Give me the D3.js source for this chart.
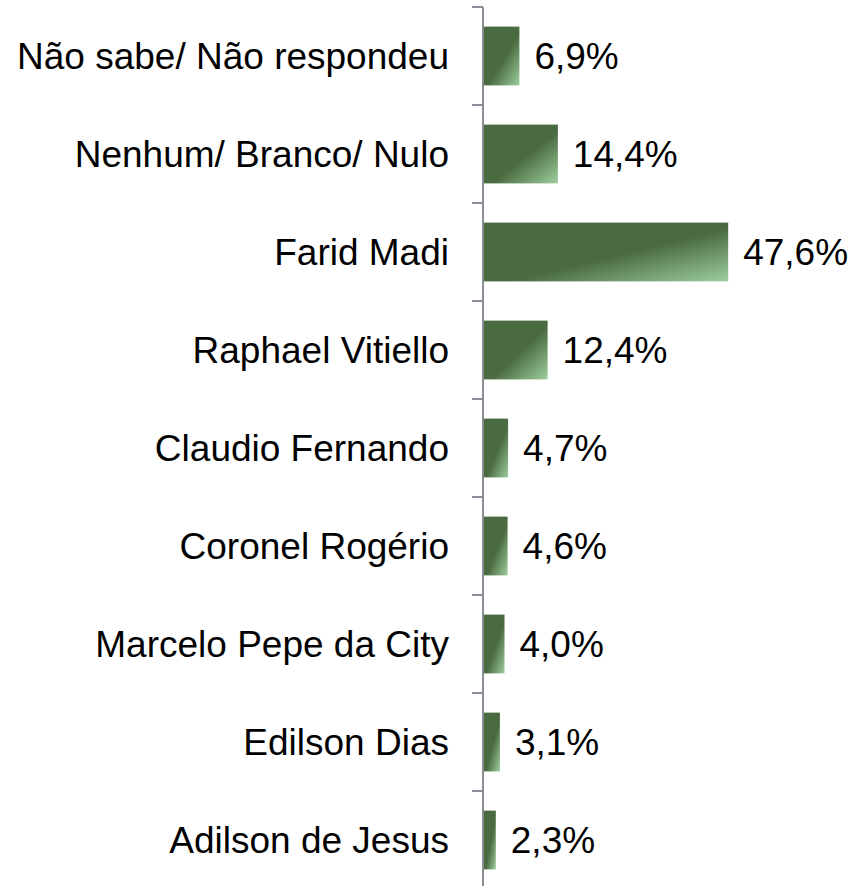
<!DOCTYPE html>
<html>
<head>
<meta charset="utf-8">
<script src="https://cdn.jsdelivr.net/npm/d3@7"></script>
<style>
html,body{margin:0;padding:0;background:#fff;}
svg{display:block;}
text{font-family:"Liberation Sans",Arial,sans-serif;fill:#000;}
</style>
</head>
<body>
<svg id="chart" width="852" height="886"></svg>
<script>
const categories = ["Não sabe/ Não respondeu","Nenhum/ Branco/ Nulo","Farid Madi","Raphael Vitiello","Claudio Fernando","Coronel Rogério","Marcelo Pepe da City","Edilson Dias","Adilson de Jesus"];
const values = [6.9, 14.4, 47.6, 12.4, 4.7, 4.6, 4.0, 3.1, 2.3];
const valueLabels = ["6,9%","14,4%","47,6%","12,4%","4,7%","4,6%","4,0%","3,1%","2,3%"];

const svg = d3.select("#chart");
const axisX = 483;
const y = d3.scaleBand().domain(categories).range([7, 889]).paddingInner(0.4).paddingOuter(0.2);
const x = d3.scaleLinear().domain([0, 50]).range([axisX + 1, axisX + 1 + 256.5]);

const defs = svg.append("defs");
const grad = defs.append("linearGradient").attr("id","barGrad")
  .attr("x1","0").attr("y1","0").attr("x2","1").attr("y2","1");
grad.append("stop").attr("offset","0").attr("stop-color","#4a6a42");
grad.append("stop").attr("offset","0.55").attr("stop-color","#4a6a42");
grad.append("stop").attr("offset","1").attr("stop-color","#9dcf9d");

// bars
svg.selectAll("rect.bar").data(categories).enter().append("rect")
  .attr("class","bar")
  .attr("x", x(0))
  .attr("y", d => y(d))
  .attr("width", (d,i) => x(values[i]) - x(0))
  .attr("height", y.bandwidth())
  .attr("fill","url(#barGrad)");

// axis line and ticks
const step = y.step();
const start = y.range()[0];
svg.append("line").attr("x1",axisX).attr("x2",axisX).attr("y1",start).attr("y2",y.range()[1])
  .attr("stroke","#8a8d95").attr("stroke-width",2);
const tickYs = d3.range(categories.length + 1).map(i => start + i * step);
svg.selectAll("line.tick").data(tickYs).enter().append("line")
  .attr("class","tick")
  .attr("x1",axisX - 11).attr("x2",axisX).attr("y1",d=>d).attr("y2",d=>d)
  .attr("stroke","#8a8d95").attr("stroke-width",2);

// category labels
svg.selectAll("text.cat").data(categories).enter().append("text")
  .attr("class","cat")
  .attr("x", 449)
  .attr("y", d => y(d) + y.bandwidth()/2)
  .attr("dy","0.35em")
  .attr("text-anchor","end")
  .style("font-size","37px")
  .text(d => d);

// value labels
svg.selectAll("text.val").data(categories).enter().append("text")
  .attr("class","val")
  .attr("x", (d,i) => x(values[i]) + 15)
  .attr("y", d => y(d) + y.bandwidth()/2)
  .attr("dy","0.35em")
  .style("font-size","37px")
  .text((d,i) => valueLabels[i]);
</script>
</body>
</html>
